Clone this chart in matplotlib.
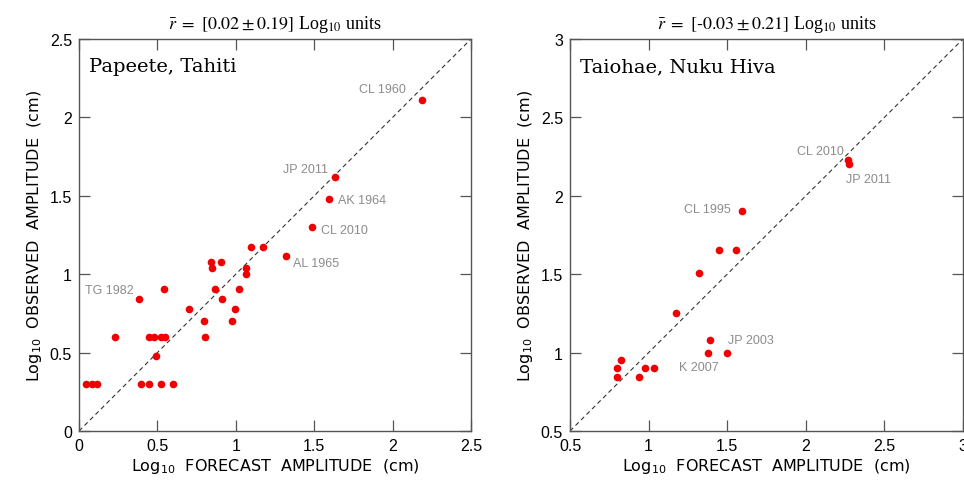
import matplotlib
matplotlib.use("Agg")
import matplotlib.pyplot as plt

plt.rcParams['mathtext.fontset'] = 'stix'

# Papeete, Tahiti  (log10 forecast, log10 observed)
tahiti_forecast = [0.043, 0.081, 0.117, 0.232, 0.383, 0.398, 0.449, 0.446, 0.480, 0.523,
                   0.546, 0.493, 0.544, 0.521, 0.602, 0.702, 0.797, 0.801, 0.840, 0.848,
                   0.865, 0.903, 0.910, 0.976, 0.997, 1.023, 1.063, 1.063, 1.099, 1.176,
                   1.320, 1.486, 1.592, 1.635, 2.185]
tahiti_observed = [0.301, 0.301, 0.301, 0.602, 0.845, 0.301, 0.301, 0.602, 0.602, 0.602,
                   0.602, 0.477, 0.903, 0.301, 0.301, 0.778, 0.699, 0.602, 1.079, 1.041,
                   0.903, 1.079, 0.845, 0.699, 0.778, 0.903, 1.041, 1.000, 1.176, 1.176,
                   1.114, 1.301, 1.477, 1.623, 2.114]
tahiti_events = ["CL 1960", "JP 2011", "AK 1964", "CL 2010", "AL 1965", "TG 1982"]
tahiti_event_xy = [(1.932, 2.181), (1.444, 1.674), (1.807, 1.472), (1.694, 1.281),
                   (1.509, 1.072), (0.194, 0.902)]

# Taiohae, Nuku Hiva
nuku_forecast = [0.797, 0.797, 0.827, 0.939, 0.980, 1.035, 1.175, 1.321, 1.380, 1.391,
                 1.447, 1.498, 1.557, 1.593, 2.268, 2.276]
nuku_observed = [0.845, 0.903, 0.954, 0.845, 0.903, 0.903, 1.255, 1.505, 1.000, 1.079,
                 1.653, 1.000, 1.653, 1.903, 2.230, 2.204]
nuku_events = ["CL 2010", "JP 2011", "CL 1995", "JP 2003", "K 2007"]
nuku_event_xy = [(2.094, 2.287), (2.402, 2.104), (1.372, 1.919), (1.652, 1.079),
                 (1.319, 0.906)]

titles = [r"$\bar{r}\ =\ [0.02 \pm 0.19]$ Log$_{10}$ units",
          r"$\bar{r}\ =\ [\text{-}0.03 \pm 0.21]$ Log$_{10}$ units"]
stations = ["Papeete, Tahiti", "Taiohae, Nuku Hiva"]

fig = plt.figure(figsize=(9.64, 4.81), dpi=100)
W, H = 964, 481
ax1 = fig.add_axes([79 / W, 49 / H, 392 / W, 392 / H])
ax2 = fig.add_axes([570 / W, 49 / H, 393 / W, 392 / H])

panels = [
    (ax1, tahiti_forecast, tahiti_observed, tahiti_events, tahiti_event_xy, (0, 2.5),
     [0, 0.5, 1, 1.5, 2, 2.5], ["0", "0.5", "1", "1.5", "2", "2.5"]),
    (ax2, nuku_forecast, nuku_observed, nuku_events, nuku_event_xy, (0.5, 3),
     [0.5, 1, 1.5, 2, 2.5, 3], ["0.5", "1", "1.5", "2", "2.5", "3"]),
]

for i, (ax, fx, ob, ev, evxy, lim, ticks, ticklabels) in enumerate(panels):
    ax.plot(lim, lim, ls=(0, (4, 3)), color="#333333", lw=0.8, zorder=1)
    ax.plot(fx, ob, "o", color="#f00000", markersize=5.5, markeredgewidth=0, zorder=3)
    for name, (tx, ty) in zip(ev, evxy):
        ax.text(tx, ty, name, color="#8c8c8c", fontsize=9, family="Liberation Sans",
                ha="center", va="center")
    ax.set_xlim(lim)
    ax.set_ylim(lim)
    ax.set_xticks(ticks)
    ax.set_yticks(ticks)
    ax.set_xticklabels(ticklabels, family="Liberation Sans", fontsize=11.5)
    ax.set_yticklabels(ticklabels, family="Liberation Sans", fontsize=11.5)
    ax.tick_params(direction="in", length=8, width=0.9, color="#555555",
                   top=True, right=True, pad=5)
    for sp in ax.spines.values():
        sp.set_color("#555555")
        sp.set_linewidth(1.0)
    ax.set_xlabel(r"Log$_{10}$  FORECAST  AMPLITUDE  (cm)", fontsize=11.5,
                  family="DejaVu Sans", math_fontfamily="dejavusans", labelpad=2)
    ax.set_ylabel(r"Log$_{10}$  OBSERVED  AMPLITUDE  (cm)", fontsize=11.5,
                  family="DejaVu Sans", math_fontfamily="dejavusans", labelpad=4)
    ax.set_title(titles[i], fontsize=13, family="Liberation Serif", pad=8)
    ax.text(0.025, 0.93, stations[i], transform=ax.transAxes, fontsize=14,
            family="DejaVu Serif", ha="left", va="center")

fig.savefig("out.png", dpi=100)
